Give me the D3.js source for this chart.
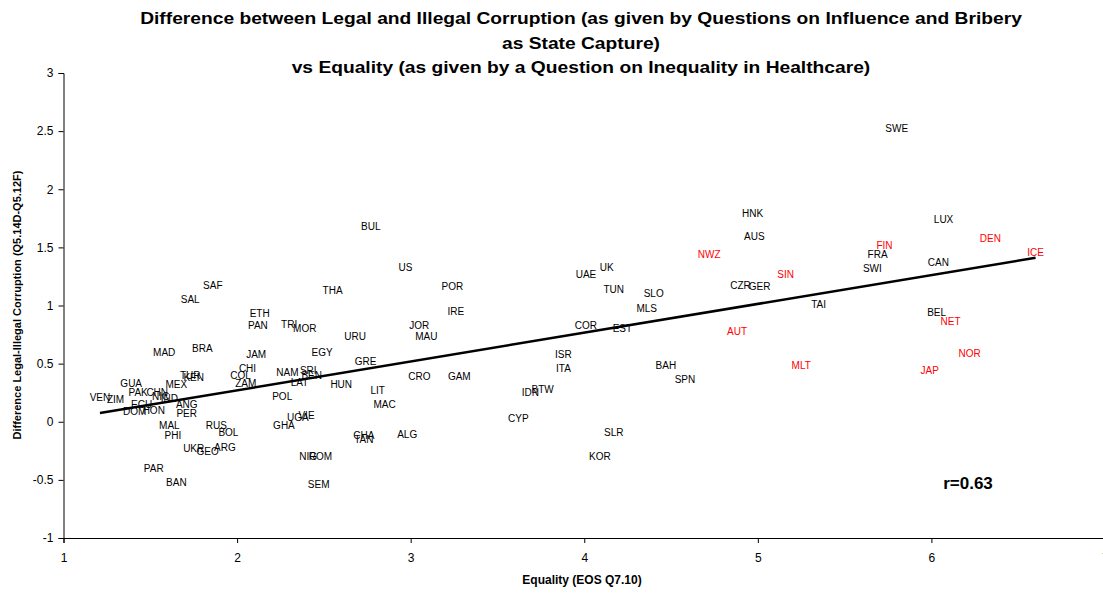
<!DOCTYPE html>
<html>
<head>
<meta charset="utf-8">
<script src="https://cdn.jsdelivr.net/npm/d3@7"></script>
<style>
  body { margin: 0; background: #fff; }
  svg { display: block; font-family: Arial, "Liberation Sans", sans-serif; }
</style>
</head>
<body>
<svg id="chart" width="1103" height="595"></svg>
<script>
// country codes, equality score, legal-illegal difference
const codes = ["SWE","HNK","AUS","LUX","FIN","DEN","FRA","ICE","CAN","SWI","NWZ","SIN","CZR","GER","TAI","BEL","NET","AUT","NOR","JAP","MLT",
  "BAH","SPN","SLR","KOR","UK","UAE","TUN","SLO","MLS","COR","EST","ISR","ITA","BTW","IDN","CYP",
  "US","POR","IRE","JOR","MAU","CRO","GAM","ALG","BUL","THA","URU","GRE","EGY","HUN","LIT","MAC","CHA","TAN","SEM","NIG","ROM",
  "UGA","VIE","GHA","POL","NAM","SRI","BEN","LAT","JAM","CHI","COL","ZAM","ETH","PAN","TRI","MOR",
  "SAF","SAL","MAD","BRA","TUR","KEN","GUA","MEX","PAK","CHN","NIC","IND","VEN","ZIM","ECU","DOM","HON",
  "ANG","PER","MAL","PHI","RUS","BOL","UKR","GEO","ARG","PAR","BAN"];
const equality = [5.80,4.97,4.98,6.07,5.73,6.34,5.69,6.60,6.04,5.66,4.72,5.16,4.90,5.01,5.35,6.03,6.11,4.88,6.22,5.99,5.25,
  4.47,4.58,4.17,4.09,4.13,4.01,4.17,4.40,4.36,4.01,4.22,3.88,3.88,3.76,3.69,3.62,
  2.97,3.24,3.26,3.05,3.09,3.05,3.28,2.98,2.77,2.55,2.68,2.74,2.49,2.60,2.81,2.85,2.73,2.73,2.47,2.41,2.48,
  2.35,2.40,2.27,2.26,2.29,2.41,2.43,2.36,2.11,2.06,2.02,2.05,2.13,2.12,2.30,2.39,
  1.86,1.73,1.58,1.80,1.73,1.75,1.39,1.65,1.43,1.54,1.56,1.61,1.21,1.30,1.45,1.41,1.52,
  1.71,1.71,1.61,1.63,1.88,1.95,1.75,1.83,1.93,1.52,1.65];
const difference = [2.52,1.79,1.59,1.74,1.52,1.58,1.44,1.46,1.37,1.32,1.44,1.27,1.17,1.16,1.01,0.94,0.86,0.78,0.59,0.44,0.48,
  0.48,0.36,-0.09,-0.30,1.33,1.27,1.14,1.10,0.97,0.83,0.80,0.58,0.46,0.28,0.25,0.03,
  1.33,1.16,0.95,0.83,0.73,0.39,0.39,-0.11,1.68,1.13,0.73,0.52,0.60,0.32,0.27,0.15,-0.12,-0.15,-0.54,-0.30,-0.30,
  0.04,0.05,-0.03,0.22,0.42,0.44,0.40,0.34,0.58,0.46,0.40,0.33,0.93,0.83,0.84,0.80,
  1.17,1.05,0.60,0.63,0.40,0.38,0.33,0.32,0.25,0.25,0.22,0.20,0.21,0.19,0.15,0.09,0.10,
  0.15,0.07,-0.03,-0.12,-0.03,-0.09,-0.23,-0.26,-0.22,-0.40,-0.52];
// countries shown in red
const highlighted = ["NWZ","SIN","FIN","DEN","ICE","NET","AUT","MLT","NOR","JAP"];

const trendX = [1.21, 6.60];
const trendY = [0.075, 1.41];

const xTicks = [1, 2, 3, 4, 5, 6, 7];
const yTicks = [-1, -0.5, 0, 0.5, 1, 1.5, 2, 2.5, 3];

const titleLines = [
  "Difference between Legal and Illegal Corruption (as given by Questions on Influence and Bribery",
  "as State Capture)",
  "vs Equality (as given by a Question on Inequality in Healthcare)"
];
const xTitle = "Equality (EOS Q7.10)";
const yTitle = "Difference Legal-Illegal Corruption (Q5.14D-Q5.12F)";
const rText = "r=0.63";

const svg = d3.select("#chart");

const x = d3.scaleLinear().domain([1, 7]).range([63.5, 1105]);
const y = d3.scaleLinear().domain([-1, 3]).range([538, 73]);

// title - the original is a bit wider than plain Arial bold, so stretch it
const title = svg.append("g").selectAll("text")
  .data(titleLines)
  .join("text")
  .attr("x", 581)
  .attr("y", (d, i) => 24 + i * 24.5)
  .attr("text-anchor", "middle")
  .style("font-size", "17px")
  .style("font-weight", "bold")
  .text(d => d);
title.each(function () {
  const w = this.getComputedTextLength();
  d3.select(this).attr("textLength", w * 1.13).attr("lengthAdjust", "spacingAndGlyphs");
});

// axes
const yAxis = svg.append("g")
  .attr("transform", `translate(${x(1)},0)`)
  .call(d3.axisLeft(y).tickValues(yTicks).tickSize(5).tickPadding(5).tickFormat(d => String(d)));
const xAxis = svg.append("g")
  .attr("transform", `translate(0,${y(-1)})`)
  .call(d3.axisBottom(x).tickValues(xTicks).tickSize(5).tickPadding(10).tickFormat(d => String(d)));

[xAxis, yAxis].forEach(a => {
  a.select(".domain").attr("stroke", "#000").attr("stroke-width", 1);
  a.selectAll(".tick line").attr("stroke", "#000");
  a.selectAll(".tick text").style("font-size", "12px").attr("fill", "#000")
    .style("font-family", "Arial, 'Liberation Sans', sans-serif");
});

// axis titles
svg.append("text")
  .attr("x", 582).attr("y", 584)
  .attr("text-anchor", "middle")
  .style("font-size", "12px").style("font-weight", "bold")
  .text(xTitle);
svg.append("text")
  .attr("transform", `translate(21,305) rotate(-90)`)
  .attr("text-anchor", "middle")
  .style("font-size", "11px").style("font-weight", "bold")
  .text(yTitle);

// trend line
svg.append("line")
  .attr("x1", x(trendX[0])).attr("y1", y(trendY[0]))
  .attr("x2", x(trendX[1])).attr("y2", y(trendY[1]))
  .attr("stroke", "#000").attr("stroke-width", 2.5);

// labels as points
svg.append("g").selectAll("text")
  .data(codes.map((c, i) => ({code: c, ex: equality[i], df: difference[i]})))
  .join("text")
  .attr("x", d => x(d.ex))
  .attr("y", d => y(d.df))
  .attr("dy", "0.35em")
  .attr("text-anchor", "middle")
  .attr("fill", d => highlighted.includes(d.code) ? "#ff0000" : "#000")
  .style("font-size", "10px")
  .text(d => d.code);

svg.append("text")
  .attr("x", 968).attr("y", 489)
  .attr("text-anchor", "middle")
  .style("font-size", "17px")
  .style("font-weight", "bold")
  .text(rText);
</script>
</body>
</html>
